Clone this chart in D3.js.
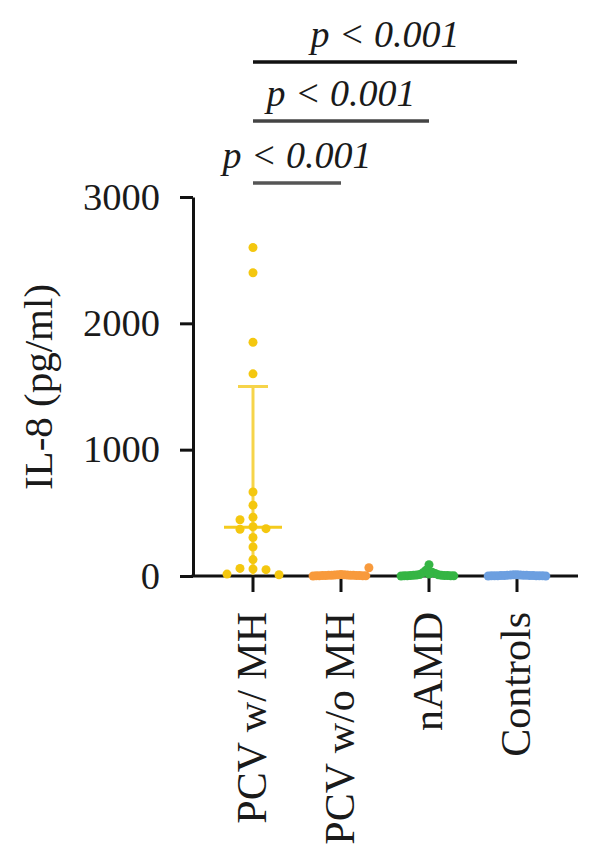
<!DOCTYPE html>
<html>
<head>
<meta charset="utf-8">
<script src="https://cdn.jsdelivr.net/npm/d3@7"></script>
<style>
  body { margin: 0; background: #fff; }
  text { font-family: "Liberation Serif", "Times New Roman", serif; fill: #1a1a1a; }
</style>
</head>
<body>
<div id="chart"></div>
<script>
// 分组与数据
const groups = ["PCV w/ MH", "PCV w/o MH", "nAMD", "Controls"];

const pcvMH = [2600, 2400, 1850, 1600, 665, 560, 465, 445, 390, 375, 370, 305, 230, 130, 60, 55, 50, 15, 10];
const pcvNoMH = [12, 10, 9, 8, 7, 6, 6, 5, 5, 4, 4, 3, 3, 2, 2, 1, 1, 0, 65];
const nAMD = [90, 45, 30, 25, 20, 15, 12, 10, 8, 6, 5, 4, 3, 3, 2, 2, 1, 1, 0];
const controls = [10, 9, 8, 7, 6, 5, 5, 4, 4, 3, 3, 2, 2, 2, 1, 1, 1, 0, 0];

// 中位数 + 误差线 (只有第一组看得见)
const pcvMHSummary = {median: 385, upper: 1500, lower: 10};

const yTicks = [0, 1000, 2000, 3000];

const comparisons = [
    {from: "PCV w/ MH", to: "PCV w/o MH", label: "p < 0.001"},
    {from: "PCV w/ MH", to: "nAMD", label: "p < 0.001"},
    {from: "PCV w/ MH", to: "Controls", label: "p < 0.001"}
];

const colors = ["#F4C70F", "#F89A3C", "#35B544", "#6C9FE0"];
const series = [pcvMH, pcvNoMH, nAMD, controls];
const spread = [13, 3.1, 3.1, 3.2];   // 横向错开的步长

const W = 600, H = 862;
const svg = d3.select("#chart").append("svg")
    .attr("width", W)
    .attr("height", H);

const axisX0 = 193, axisX1 = 578;

const x = d3.scaleBand()
    .domain(groups)
    .range([209, 561]);

const y = d3.scaleLinear()
    .domain([0, 3000])
    .range([576, 197]);

// y 轴
const yAxis = svg.append("g")
    .attr("transform", `translate(${axisX0},0)`)
    .call(d3.axisLeft(y).tickValues(yTicks).tickFormat(d3.format("d"))
        .tickSize(13).tickSizeOuter(0).tickPadding(20));
yAxis.select(".domain").attr("stroke", "#111").attr("stroke-width", 3);
yAxis.selectAll(".tick line").attr("stroke", "#111").attr("stroke-width", 3);
yAxis.selectAll(".tick text")
    .attr("font-size", 38.5)
    .attr("font-family", "Liberation Serif")
    .attr("fill", "#1a1a1a");

svg.append("text")
    .attr("transform", `translate(52,387) rotate(-90)`)
    .attr("text-anchor", "middle")
    .attr("font-size", 41)
    .text("IL-8 (pg/ml)");

// x 轴
const xAxis = svg.append("g")
    .attr("transform", `translate(0,${y(0)})`)
    .call(d3.axisBottom(x).tickSize(16).tickSizeOuter(0));
xAxis.select(".domain").remove();
xAxis.selectAll(".tick line").attr("stroke", "#111").attr("stroke-width", 3);
xAxis.selectAll(".tick text")
    .attr("font-size", 42)
    .attr("font-family", "Liberation Serif")
    .attr("fill", "#1a1a1a")
    .attr("text-anchor", "end")
    .attr("transform", "translate(0,36) rotate(-90)")
    .attr("x", 0)
    .attr("y", 0)
    .attr("dy", "0.32em");

svg.append("line")
    .attr("x1", axisX0 - 1.5).attr("x2", axisX1)
    .attr("y1", y(0)).attr("y2", y(0))
    .attr("stroke", "#111")
    .attr("stroke-width", 3);

// 简单的蜂群排布
function dodge(values, step, r) {
    const placed = [];
    values.forEach(v => {
        const cy = y(v);
        for (let k = 0; ; k++) {
            const off = k === 0 ? 0 : (k % 2 ? -1 : 1) * Math.ceil(k / 2) * step;
            const hit = placed.some(p => Math.abs(p.off - off) < step * 0.5 && Math.abs(p.cy - cy) < 2 * r);
            if (!hit) { placed.push({v, cy, off}); break; }
        }
    });
    return placed;
}

const r = 4.5;

// 误差线 (第一组)
const cx0 = x(groups[0]) + x.bandwidth() / 2;
const eb = svg.append("g").attr("stroke", "#F6D44A").attr("stroke-width", 3);
eb.append("line")
    .attr("x1", cx0).attr("x2", cx0)
    .attr("y1", y(pcvMHSummary.upper)).attr("y2", y(pcvMHSummary.lower));
eb.append("line")
    .attr("x1", cx0 - 15).attr("x2", cx0 + 15)
    .attr("y1", y(pcvMHSummary.upper)).attr("y2", y(pcvMHSummary.upper));
eb.append("line")
    .attr("x1", cx0 - 29).attr("x2", cx0 + 29)
    .attr("y1", y(pcvMHSummary.median)).attr("y2", y(pcvMHSummary.median))
    .attr("stroke", "#F4CB1E");

// 散点
series.forEach((vals, i) => {
    const cx = x(groups[i]) + x.bandwidth() / 2;
    svg.append("g")
        .selectAll("circle")
        .data(dodge(vals, spread[i], r))
        .enter().append("circle")
        .attr("cx", d => cx + d.off)
        .attr("cy", d => d.cy)
        .attr("r", r)
        .attr("fill", colors[i]);
});

// 显著性标注
const barY = [183, 121, 62];
const barColor = ["#555", "#444", "#111"];
comparisons.forEach((c, i) => {
    const x1 = x(c.from) + x.bandwidth() / 2;
    const x2 = x(c.to) + x.bandwidth() / 2;
    svg.append("line")
        .attr("x1", x1).attr("x2", x2)
        .attr("y1", barY[i]).attr("y2", barY[i])
        .attr("stroke", barColor[i])
        .attr("stroke-width", 3.5);
    svg.append("text")
        .attr("x", (x1 + x2) / 2)
        .attr("y", barY[i] - 15)
        .attr("text-anchor", "middle")
        .attr("font-size", 38)
        .attr("font-style", "italic")
        .text(c.label);
});
</script>
</body>
</html>
